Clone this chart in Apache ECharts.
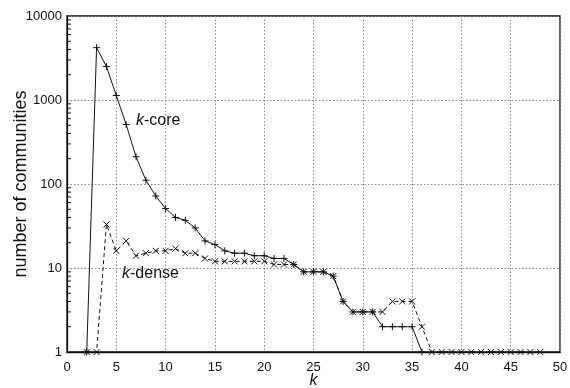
<!DOCTYPE html>
<html>
<head>
<meta charset="utf-8">
<script src="https://cdn.jsdelivr.net/npm/echarts@6/dist/echarts.min.js"></script>
<style>html,body{margin:0;padding:0;background:#fff}#c{width:570px;height:388px}</style>
</head>
<body>
<div id="c"></div>
<script>
const kCoreK = [2,3,4,5,6,7,8,9,10,11,12,13,14,15,16,17,18,19,20,21,22,23,24,25,26,27,28,29,30,31,32,33,34,35,36];
const kCoreV = [1,4200,2500,1130,510,211,111,72,51,40,37,30,21,19,16,15,15,14,14,13,13,11,9,9,9,8,4,3,3,3,2,2,2,2,1];
const kDenseK = [2,3,4,5,6,7,8,9,10,11,12,13,14,15,16,17,18,19,20,21,22,23,24,25,26,27,28,29,30,31,32,33,34,35,36,37,38,39,40,41,42,43,44,45,46,47,48];
const kDenseV = [1,1,33,16,21,14,15,16,16,17,15,15,13,12,12,12,12,12,12,11,11,11,9,9,9,8,4,3,3,3,3,4,4,4,2,1,1,1,1,1,1,1,1,1,1,1,1];
const minorTickValues = [2,3,4,5,6,7,8,9,20,30,40,50,60,70,80,90,200,300,400,500,600,700,800,900,2000,3000,4000,5000,6000,7000,8000,9000];
const xTicks = [0,5,10,15,20,25,30,35,40,45,50];
const yTicks = [1,10,100,1000,10000];

const FONT = 'Liberation Sans, Arial, Helvetica, sans-serif';
const chart = echarts.init(document.getElementById('c'), null, {renderer: 'canvas'});
const plusSym = 'path://M0,5L10,5M5,0L5,10';
const crossSym = 'path://M0,0L10,10M10,0L0,10';

chart.setOption({
  animation: false,
  backgroundColor: '#fff',
  grid: {left: 67, right: 10, top: 16, bottom: 36, containLabel: false, outerBoundsMode: 'none', show: true, borderColor: '#111', borderWidth: 1.3, backgroundColor: 'transparent'},
  xAxis: {
    type: 'value', min: xTicks[0], max: xTicks[xTicks.length-1], interval: 5,
    name: 'k', nameLocation: 'middle', nameGap: 21, nameMoveOverlap: false,
    nameTextStyle: {fontFamily: FONT, fontSize: 16, fontStyle: 'italic', color: '#111'},
    axisLine: {show: true, lineStyle: {color: '#111', width: 1.3}},
    axisTick: {show: false},
    axisLabel: {fontFamily: FONT, fontSize: 13, color: '#111', margin: 9},
    splitLine: {show: true, lineStyle: {color: '#888', type: [1.5, 2], width: 1}}
  },
  yAxis: {
    type: 'log', logBase: 10, min: yTicks[0], max: yTicks[yTicks.length-1],
    name: 'number of communities', nameLocation: 'middle', nameGap: 37, nameMoveOverlap: false,
    nameTextStyle: {fontFamily: FONT, fontSize: 18, color: '#111'},
    axisLine: {show: true, lineStyle: {color: '#111', width: 1.3}},
    axisTick: {show: false},
    axisLabel: {fontFamily: FONT, fontSize: 13, color: '#111', margin: 5, formatter: v => String(Math.round(v))},
    splitLine: {show: true, lineStyle: {color: '#888', type: [1.5, 2], width: 1}}
  },
  series: [
    {
      type: 'custom',
      silent: true,
      data: minorTickValues.map(v => [0, v]),
      renderItem: function (params, api) {
        const p = api.coord([api.value(0), api.value(1)]);
        return {type: 'line', shape: {x1: p[0], y1: p[1], x2: p[0] + 4, y2: p[1]}, style: {stroke: '#111', lineWidth: 1}};
      },
      z: 3
    },
    {
      name: 'k-core', type: 'line',
      data: kCoreK.map((k, i) => [k, kCoreV[i]]),
      symbol: plusSym, symbolSize: 7,
      itemStyle: {color: 'none', borderColor: '#111', borderWidth: 1},
      lineStyle: {color: '#111', width: 1},
      z: 5
    },
    {
      name: 'k-dense', type: 'line',
      data: kDenseK.map((k, i) => [k, kDenseV[i]]),
      symbol: crossSym, symbolSize: 6,
      itemStyle: {color: 'none', borderColor: '#111', borderWidth: 1},
      lineStyle: {color: '#111', width: 1, type: [4, 3]},
      z: 4
    }
  ],
  graphic: [
    {type: 'text', left: 136, top: 113, style: {text: '{i|k}-core', font: '16px ' + FONT, fill: '#111', rich: {i: {fontStyle: 'italic', fontSize: 16, fontFamily: FONT, fill: '#111'}}}},
    {type: 'text', left: 122, top: 266, style: {text: '{i|k}-dense', font: '16px ' + FONT, fill: '#111', rich: {i: {fontStyle: 'italic', fontSize: 16, fontFamily: FONT, fill: '#111'}}}}
  ]
});
</script>
</body>
</html>
